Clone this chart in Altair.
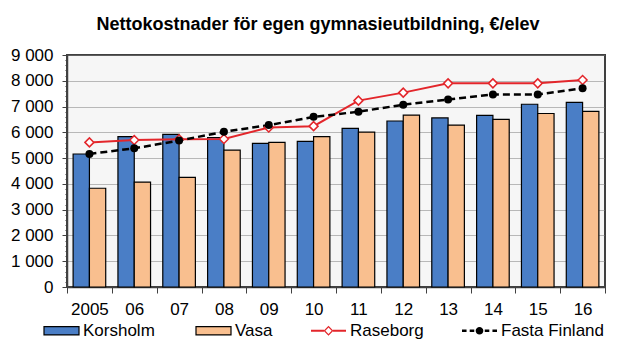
import altair as alt
import pandas as pd

years = ["2005", "06", "07", "08", "09", "10", "11", "12", "13", "14", "15", "16"]
korsholm = [5160, 5830, 5920, 5800, 5570, 5650, 6150, 6440, 6560, 6660, 7090, 7160]
vasa = [3830, 4070, 4250, 5310, 5610, 5830, 6010, 6670, 6280, 6500, 6730, 6810]
raseborg = [5610, 5700, 5730, 5740, 6190, 6240, 7230, 7540, 7900, 7900, 7900, 8030]
fasta = [5160, 5380, 5680, 6020, 6280, 6600, 6800, 7070, 7270, 7470, 7470, 7710]

series = ["Korsholm", "Vasa", "Raseborg", "Fasta Finland"]
colors = ["#4a7ec6", "#f9bf8f", "#e3262b", "#000000"]
y_ticks = list(range(0, 9001, 200))

bars_df = pd.DataFrame(
    {"year": years * 2, "series": ["Korsholm"] * 12 + ["Vasa"] * 12, "value": korsholm + vasa}
)
ras_df = pd.DataFrame({"year": years, "value": raseborg})
fas_df = pd.DataFrame({"year": years, "value": fasta})

FONT = "Liberation Sans"

x_enc = alt.X(
    "year:N",
    sort=years,
    title=None,
    scale=alt.Scale(paddingInner=0, paddingOuter=0),
    axis=alt.Axis(
        labelAngle=0,
        labelFontSize=17,
        labelFont=FONT,
        labelColor="black",
        labelPadding=8,
        tickBand="extent",
        tickSize=6,
        tickColor="#404040",
        domainColor="#404040",
        domainWidth=1.5,
        grid=False,
    ),
)

y_enc = alt.Y(
    "value:Q",
    title=None,
    scale=alt.Scale(domain=[0, 9000], nice=False),
    axis=alt.Axis(
        values=y_ticks,
        labelExpr="datum.value % 1000 == 0 ? replace(format(datum.value, ','), ',', ' ') : ''",
        labelOverlap=False,
        labelFontSize=17,
        labelFont=FONT,
        labelColor="black",
        labelPadding=9,
        tickSize={"condition": {"test": "datum.value % 1000 == 0", "value": 5}, "value": 2},
        tickColor="#404040",
        domainColor="#404040",
        domainWidth=1.5,
        grid=True,
        gridColor="#7a7a7a",
        gridDash=[1, 1],
        gridOpacity={"condition": {"test": "datum.value % 1000 == 0 && datum.value > 0", "value": 1}, "value": 0},
    ),
)

# legend glyphs (path units: -0.5..0.5 spans the symbol width)
rect_path = "M-0.5,-0.12H0.5V0.12H-0.5Z"
ras_path = (
    "M-0.5,-0.03H-0.13V0.03H-0.5Z"
    "M0.13,-0.03H0.5V0.03H0.13Z"
    "M0,-0.14L0.14,0L0,0.14L-0.14,0Z"
    "M0,-0.09L-0.09,0L0,0.09L0.09,0Z"
)
fas_path = (
    "M-0.5,-0.035H-0.37V0.035H-0.5Z"
    "M-0.28,-0.035H-0.15V0.035H-0.28Z"
    "M0.15,-0.035H0.28V0.035H0.15Z"
    "M0.37,-0.035H0.5V0.035H0.37Z"
    "M0.11,0A0.11,0.11,0,1,1,-0.11,0A0.11,0.11,0,1,1,0.11,0Z"
)

legend = alt.Legend(
    title=None,
    orient="none",
    legendX=-23,
    legendY=267,
    direction="horizontal",
    labelFontSize=17,
    labelFont=FONT,
    labelColor="black",
    labelOffset=13,
    symbolOffset=9,
    symbolSize=4900,
    columnPadding=38,
    labelLimit=300,
    symbolOpacity=1,
    symbolStrokeColor="black",
    symbolType={
        "expr": f"datum.value == 'Raseborg' ? '{ras_path}' : datum.value == 'Fasta Finland' ? '{fas_path}' : '{rect_path}'"
    },
    symbolStrokeWidth={"expr": "datum.value == 'Korsholm' || datum.value == 'Vasa' ? 1.2 : 0"},
)

bars = (
    alt.Chart(bars_df)
    .mark_bar(stroke="black", strokeWidth=1.2)
    .encode(
        x=x_enc,
        xOffset=alt.XOffset(
            "series:N",
            sort=["Korsholm", "Vasa"],
            scale=alt.Scale(paddingInner=0, paddingOuter=0.375),
        ),
        y=y_enc,
        color=alt.Color(
            "series:N",
            scale=alt.Scale(domain=series, range=colors),
            legend=legend,
        ),
    )
)

ras_line = (
    alt.Chart(ras_df)
    .mark_line(color="#e3262b", strokeWidth=2)
    .encode(x=x_enc, y=y_enc)
)
ras_pts = (
    alt.Chart(ras_df)
    .mark_point(shape="diamond", size=80, filled=True, fill="white", stroke="#e3262b", strokeWidth=1.5, opacity=1)
    .encode(x=x_enc, y=y_enc)
)
fas_line = (
    alt.Chart(fas_df)
    .mark_line(color="black", strokeWidth=2.5, strokeDash=[7, 4])
    .encode(x=x_enc, y=y_enc)
)
fas_pts = (
    alt.Chart(fas_df)
    .mark_point(shape="circle", size=64, filled=True, color="black", opacity=1)
    .encode(x=x_enc, y=y_enc)
)

chart = (
    alt.layer(bars, ras_line, fas_line, ras_pts, fas_pts)
    .properties(
        width=538,
        height=232,
        title=alt.TitleParams(
            "Nettokostnader för egen gymnasieutbildning, €/elev",
            fontSize=18,
            font=FONT,
            fontWeight="bold",
            color="black",
            anchor="middle",
            dx=-18,
            offset=12,
        ),
        autosize=alt.AutoSizeParams(type="none"),
        padding={"left": 67, "top": 55, "right": 38, "bottom": 64},
        background="white",
    )
    .configure_view(fill="#f6f6f6", stroke="#404040", strokeWidth=2)
)

chart.save("out.html", embed_options={"renderer": "svg", "actions": False})
